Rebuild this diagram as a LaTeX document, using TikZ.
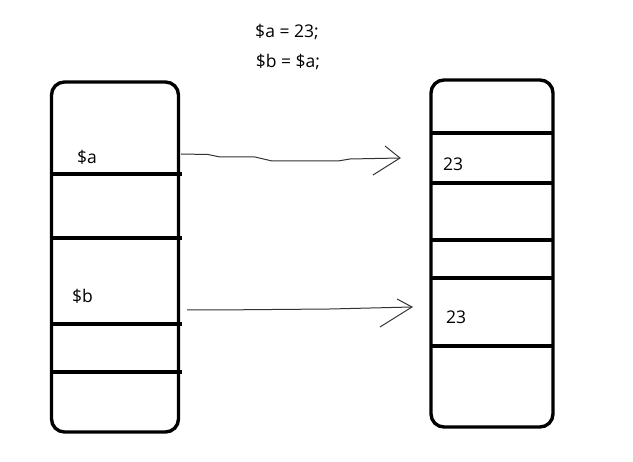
\documentclass[tikz,border=0pt]{standalone}
\usepackage{fontspec}
\setmainfont{Open Sans}
\usetikzlibrary{arrows.meta}
\begin{document}
\begin{tikzpicture}[x=1pt,y=-1pt,
  cell/.style={draw,line width=3.4pt,rounded corners=13pt,inner sep=0pt},
  divider/.style={line width=3.4pt},
  wire/.style={line width=1pt,draw=black!80},
  lbl/.style={font=\fontsize{17.5}{20}\selectfont,inner sep=0pt,anchor=west}]
\useasboundingbox (0,0) rectangle (633,462);
% boxes
\node[cell,minimum width=127pt,minimum height=350pt] (L) at (115,257) {};
\node[cell,minimum width=122pt,minimum height=347pt] (R) at (492,253.5) {};
% dividers left
\foreach \y/\n in {174/la,238/lb,324/lc,372/ld}{
  \coordinate (\n1) at (51,\y); \coordinate (\n2) at (182,\y);
  \draw[divider] (\n1) -- (\n2);}
% dividers right
\foreach \y/\n in {133/ra,183/rb,240/rc,278/rd,346/re}{
  \coordinate (\n1) at (431,\y); \coordinate (\n2) at (553,\y);
  \draw[divider] (\n1) -- (\n2);}
% labels
\node[lbl] (va) at (77,157) {\$a};
\node[lbl] (vb) at (72,296) {\$b};
\node[lbl] (n1) at (443,164) {23};
\node[lbl] (n2) at (446,317) {23};
\node[lbl,anchor=center] (c1) at (287,32) {\$a = 23;};
\node[lbl,anchor=center] (c2) at (288,62) {\$b = \$a;};
% arrows
\coordinate (a1s) at (181,154);
\coordinate (a1e) at (400,158);
\coordinate (a1t) at (385,146);
\coordinate (a1b) at (373,175);
\draw[wire] (a1s) -- (208,154.5) -- (220,157) -- (255,157) -- (272,161) -- (338,161) -- (350,159) -- (a1e);
\draw[wire] (a1t) -- (a1e) -- (a1b);
\coordinate (a2s) at (187,310);
\coordinate (a2e) at (412,307);
\coordinate (a2t) at (397,299);
\coordinate (a2b) at (380,327);
\draw[wire] (a2s) -- (215,310) -- (330,309) -- (a2e);
\draw[wire] (a2t) -- (a2e) -- (a2b);
\end{tikzpicture}
\end{document}
